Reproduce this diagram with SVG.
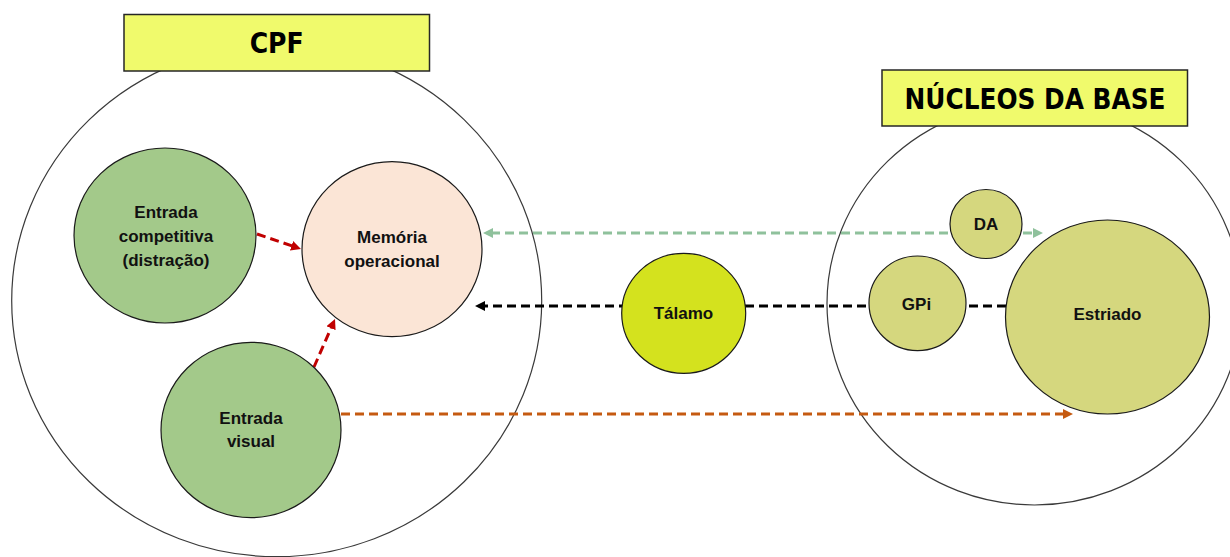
<svg xmlns="http://www.w3.org/2000/svg" width="1230" height="557" viewBox="0 0 1230 557">
<style>
.outer{fill:#ffffff;stroke:#3a3a3a;stroke-width:1.2}
.title{fill:#F0FA6C;stroke:#262626;stroke-width:1.5}
.ttxt{font-family:"DejaVu Sans Condensed","DejaVu Sans","Liberation Sans",sans-serif;font-stretch:condensed;font-weight:bold;font-size:28px;fill:#000;text-anchor:middle}
.node{stroke:#1a1a1a;stroke-width:1.2}
.lbl{font-family:"Liberation Sans",Arial,sans-serif;font-weight:bold;font-size:17px;fill:#111;text-anchor:middle}
.green{fill:#A3C98A}
.mem{fill:#FBE5D6}
.tal{fill:#D4E21E}
.bg{fill:#D5D77E}
.conn{fill:none;stroke-width:3;stroke-dasharray:9 5}
</style>
<defs>
<marker id="ah-red" markerUnits="userSpaceOnUse" markerWidth="10" markerHeight="10" refX="2" refY="5" orient="auto"><path d="M0,0 L10,5 L0,10 z" fill="#C00000"/></marker>
<marker id="ah-black" markerUnits="userSpaceOnUse" markerWidth="10" markerHeight="10" refX="2" refY="5" orient="auto"><path d="M0,0 L10,5 L0,10 z" fill="#000000"/></marker>
<marker id="ah-green" markerUnits="userSpaceOnUse" markerWidth="10" markerHeight="10" refX="2" refY="5" orient="auto-start-reverse"><path d="M0,0 L10,5 L0,10 z" fill="#8FC19C"/></marker>
<marker id="ah-orange" markerUnits="userSpaceOnUse" markerWidth="10" markerHeight="10" refX="2" refY="5" orient="auto"><path d="M0,0 L10,5 L0,10 z" fill="#C55A11"/></marker>
</defs>
<rect x="0" y="0" width="1230" height="557" fill="#ffffff"/>

<g id="cpf">
<ellipse class="outer" cx="276.7" cy="300.7" rx="265" ry="256"/>
<rect class="title" x="124" y="14.5" width="305.5" height="56.5"/>
<text class="ttxt" x="276.7" y="53" textLength="54" lengthAdjust="spacingAndGlyphs">CPF</text>
</g>

<g id="nucleos-da-base">
<ellipse class="outer" cx="1034.5" cy="303.6" rx="207.5" ry="201.4"/>
<rect class="title" x="882" y="70" width="305.5" height="56"/>
<text class="ttxt" x="1035" y="108.5" textLength="261" lengthAdjust="spacingAndGlyphs">NÚCLEOS DA BASE</text>
</g>

<g id="connectors">
<line class="conn" stroke="#C00000" x1="257" y1="234" x2="293.4" y2="246.4" marker-end="url(#ah-red)"/>
<line class="conn" stroke="#C00000" x1="314" y1="367" x2="331.8" y2="326.3" marker-end="url(#ah-red)"/>
<line class="conn" stroke="#8FC19C" x1="491" y1="233" x2="1035" y2="233" marker-start="url(#ah-green)" marker-end="url(#ah-green)"/>
<line class="conn" stroke="#000000" x1="1006" y1="306" x2="483" y2="306" marker-end="url(#ah-black)"/>
<line class="conn" stroke="#C55A11" x1="341" y1="414" x2="1065" y2="414" marker-end="url(#ah-orange)"/>
</g>

<g id="entrada-competitiva">
<ellipse class="node green" cx="165" cy="235.5" rx="91" ry="87.5"/>
<text class="lbl" x="166" y="217.7">Entrada</text>
<text class="lbl" x="166" y="241.7">competitiva</text>
<text class="lbl" x="166" y="265.7">(distração)</text>
</g>

<g id="memoria-operacional">
<ellipse class="node mem" cx="392" cy="249.2" rx="90" ry="87.5"/>
<text class="lbl" x="392" y="243">Memória</text>
<text class="lbl" x="392" y="266.7">operacional</text>
</g>

<g id="entrada-visual">
<ellipse class="node green" cx="251" cy="430" rx="90" ry="87.7"/>
<text class="lbl" x="251" y="424">Entrada</text>
<text class="lbl" x="251" y="446.7">visual</text>
</g>

<g id="talamo">
<ellipse class="node tal" cx="683.7" cy="313.3" rx="62" ry="60"/>
<text class="lbl" x="683.5" y="319.3">Tálamo</text>
</g>

<g id="da">
<ellipse class="node bg" cx="986" cy="224" rx="36" ry="34.5"/>
<text class="lbl" x="986" y="229.5">DA</text>
</g>

<g id="gpi">
<ellipse class="node bg" cx="917.5" cy="303.3" rx="48.5" ry="47.3"/>
<text class="lbl" x="916.5" y="310">GPi</text>
</g>

<g id="estriado">
<ellipse class="node bg" cx="1107.5" cy="317" rx="102" ry="97"/>
<text class="lbl" x="1107.5" y="320">Estriado</text>
</g>
</svg>
